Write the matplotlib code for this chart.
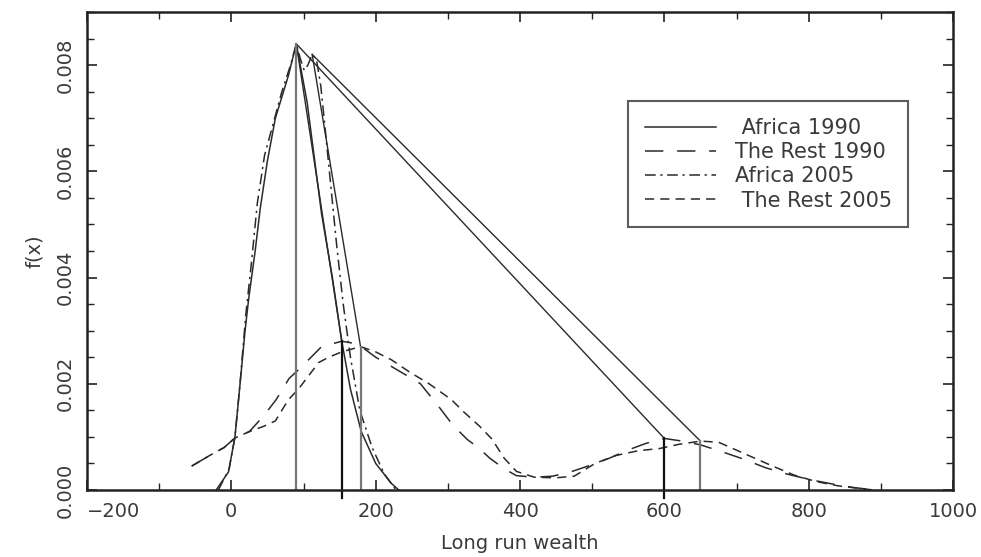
import matplotlib.pyplot as plt
from matplotlib.ticker import MultipleLocator

# density estimates
africa90_x = [-21, -4, 5, 10, 19, 24, 33, 40, 50, 61, 79, 90, 105, 125, 140, 153, 165, 180, 200, 222, 232]
africa90_y = [0, 0.00034, 0.001, 0.0017, 0.003, 0.0036, 0.0045, 0.0053, 0.0062, 0.0070, 0.0078, 0.0084,
              0.0073, 0.0052, 0.0040, 0.0028, 0.0019, 0.0011, 0.0005, 0.00012, 0.0]

africa05_x = [-18, -3, 5, 12, 20, 28, 36, 46, 58, 70, 82, 90, 96, 101, 106, 112, 118, 124, 130, 138,
              146, 155, 165, 178, 195, 212, 228]
africa05_y = [0, 0.0004, 0.001, 0.002, 0.0033, 0.0043, 0.0054, 0.0063, 0.0069, 0.0075, 0.0080, 0.0084,
              0.0081, 0.0079, 0.0080, 0.0082, 0.0081, 0.0076, 0.0068, 0.0057, 0.0046, 0.0035, 0.0025,
              0.0015, 0.0008, 0.0003, 0.0]

rest90_x = [-55, -30, -10, 5, 25, 45, 62, 80, 96, 125, 153, 175, 200, 225, 250, 262, 288, 307, 327, 342,
            358, 378, 395, 420, 445, 470, 494, 524, 549, 575, 600, 625, 650, 680, 710, 740, 770, 800,
            830, 860, 885]
rest90_y = [0.00045, 0.00065, 0.0008, 0.00098, 0.0011, 0.0014, 0.0017, 0.0021, 0.0023, 0.0027, 0.0028,
            0.00275, 0.0025, 0.0023, 0.0021, 0.002, 0.00156, 0.00122, 0.00095, 0.0008, 0.0006, 0.0004,
            0.00027, 0.00024, 0.00026, 0.00034, 0.00045, 0.0006, 0.00075, 0.00088, 0.00097, 0.00092,
            0.00085, 0.00072, 0.00058, 0.00042, 0.0003, 0.0002, 0.00012, 0.00005, 0.00001]

rest05_x = [-55, -30, -10, 5, 25, 45, 61, 79, 93, 121, 135, 153, 179, 200, 222, 247, 274, 305, 322, 344,
            361, 378, 395, 420, 450, 475, 504, 533, 564, 593, 620, 650, 675, 700, 725, 750, 780, 810,
            840, 870, 890]
rest05_y = [0.00045, 0.00065, 0.0008, 0.00098, 0.0011, 0.0012, 0.0013, 0.0017, 0.0019, 0.0024, 0.0025,
            0.0026, 0.0027, 0.0026, 0.00245, 0.00222, 0.002, 0.0017, 0.00147, 0.0012, 0.00096, 0.0006,
            0.00035, 0.00024, 0.00023, 0.00026, 0.0005, 0.00065, 0.00074, 0.00078, 0.00086, 0.00092,
            0.0009, 0.00075, 0.0006, 0.00045, 0.00028, 0.00016, 0.00008, 0.00003, 0.0]

# modes: Africa peaks and the two peaks of the rest
africa90_mode = (90, 0.0084)
africa05_mode = (112, 0.0082)
rest90_modes_x = [153, 600]
rest90_modes_y = [0.0028, 0.00097]
rest05_modes_x = [179, 650]
rest05_modes_y = [0.0027, 0.00092]

labels = [' Africa 1990', 'The Rest 1990', 'Africa 2005', ' The Rest 2005']

ink = '#2a2a2a'
txt = '#3a3a3a'
plt.rcParams['font.family'] = ['DejaVu Sans']

fig = plt.figure(figsize=(9.81, 5.57), dpi=100)
ax = fig.add_axes([0.0887, 0.1203, 0.8828, 0.8582])

ax.plot(africa90_x, africa90_y, color=ink, lw=1.1, ls='-', label=labels[0])
ax.plot(rest90_x, rest90_y, color=ink, lw=1.1, ls=(0, (12, 9)), label=labels[1])
ax.plot(africa05_x, africa05_y, color=ink, lw=1.1, ls=(0, (7, 3, 1.5, 3)), label=labels[2])
ax.plot(rest05_x, rest05_y, color=ink, lw=1.1, ls=(0, (6, 4)), label=labels[3])

# straight lines joining the Africa mode to the modes of the rest
for mx, my in zip(rest90_modes_x, rest90_modes_y):
    ax.plot([africa90_mode[0], mx], [africa90_mode[1], my], color=ink, lw=1.0)
for mx, my in zip(rest05_modes_x, rest05_modes_y):
    ax.plot([africa05_mode[0], mx], [africa05_mode[1], my], color=ink, lw=1.0)

# vertical lines at the modes
ax.plot([africa90_mode[0]] * 2, [0, africa90_mode[1]], color='#777777', lw=1.6)
for mx, my in zip(rest90_modes_x, rest90_modes_y):
    ax.plot([mx, mx], [-0.00015, my], color='#111111', lw=1.6, clip_on=False)
for mx, my in zip(rest05_modes_x, rest05_modes_y):
    ax.plot([mx, mx], [0, my], color='#777777', lw=1.6)

ax.set_xlim(-200, 1000)
ax.set_ylim(0, 0.009)
ax.xaxis.set_major_locator(MultipleLocator(200))
ax.xaxis.set_minor_locator(MultipleLocator(100))
ax.yaxis.set_major_locator(MultipleLocator(0.002))
ax.yaxis.set_minor_locator(MultipleLocator(0.0005))
ax.yaxis.set_major_formatter(plt.FuncFormatter(lambda v, p: '%.3f' % v))
ax.tick_params(which='both', direction='in', top=True, right=True, colors='#222222',
               labelsize=14, labelcolor=txt)
ax.tick_params(which='major', length=7, width=1.2, pad=9)
ax.tick_params(which='minor', length=5, width=1.0)
for lab in ax.get_yticklabels():
    lab.set_rotation(90)
    lab.set_va('center')
fig.canvas.draw()
# the leftmost x label sits to the right of its tick, as in the original
for tick in ax.xaxis.get_major_ticks():
    if abs(tick.get_loc() - (-200)) < 1e-6:
        tick.label1.set_horizontalalignment('left')
for s in ax.spines.values():
    s.set_linewidth(1.8)
    s.set_color('#222222')

ax.set_xlabel('Long run wealth', fontsize=14, color=txt, labelpad=9)
ax.set_ylabel('f(x)', fontsize=14, color=txt, labelpad=8)

leg = ax.legend(loc='upper left', bbox_to_anchor=(0.625, 0.813), fontsize=15, frameon=True,
                fancybox=False, edgecolor='#333333', handlelength=3.4, handletextpad=0.9,
                labelspacing=0.2, borderpad=0.8, borderaxespad=0.0)
leg.get_frame().set_linewidth(1.5)
for t in leg.get_texts():
    t.set_color(txt)

fig.savefig('out.png', dpi=100)
